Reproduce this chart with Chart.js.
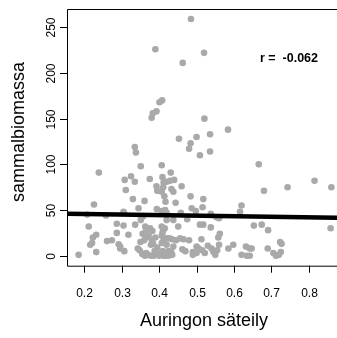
<!DOCTYPE html>
<html>
<head>
<meta charset="utf-8">
<script src="https://cdn.jsdelivr.net/npm/chart.js@4/dist/chart.umd.min.js"></script>
<style>
  body { margin: 0; background: #fff; }
  canvas { display: block; }
</style>
</head>
<body>
<canvas id="grafica" width="337" height="338"></canvas>
<script>
// Datos
const sateily = [
  0.485, 0.390, 0.520, 0.463, 0.408, 0.401, 0.393, 0.383, 0.380, 0.521,
  0.584, 0.536, 0.500, 0.453, 0.484, 0.480, 0.509, 0.536, 0.335, 0.338,
  0.666, 0.407, 0.351, 0.239, 0.431, 0.325, 0.308, 0.335, 0.375, 0.409,
  0.412, 0.420, 0.429, 0.440, 0.815, 0.860, 0.743, 0.680, 0.460, 0.311,
  0.393, 0.411, 0.395, 0.407, 0.433, 0.438, 0.484, 0.330, 0.361, 0.414,
  0.417, 0.444, 0.518, 0.226, 0.620,
  0.345, 0.394, 0.416, 0.305, 0.208, 0.258, 0.357, 0.487, 0.516, 0.407,
  0.420, 0.458, 0.498, 0.538, 0.616, 0.560, 0.438, 0.420, 0.351, 0.475,
  0.352, 0.553, 0.306,
  0.287, 0.305, 0.336, 0.363, 0.212, 0.376, 0.382, 0.415, 0.407, 0.451,
  0.509, 0.518, 0.538, 0.653, 0.674, 0.691, 0.858, 0.411, 0.409, 0.562,
  0.287, 0.318, 0.232, 0.223, 0.356, 0.366, 0.360, 0.261, 0.274, 0.221,
  0.216, 0.292, 0.296, 0.350, 0.381, 0.384, 0.378, 0.407, 0.412, 0.343,
  0.348, 0.296, 0.232, 0.185, 0.307, 0.513, 0.558,
  0.420, 0.428, 0.435, 0.445, 0.456, 0.465, 0.480, 0.407, 0.420, 0.438,
  0.410, 0.425, 0.432, 0.462, 0.470, 0.490, 0.412, 0.418, 0.425, 0.435,
  0.500, 0.490, 0.500, 0.506, 0.515, 0.522, 0.530, 0.540, 0.545, 0.550,
  0.560, 0.555, 0.585, 0.598, 0.632, 0.642, 0.620, 0.634, 0.723, 0.727,
  0.647, 0.690, 0.705, 0.712, 0.720, 0.725, 0.642,
  0.355, 0.362, 0.370, 0.378, 0.386, 0.394, 0.400, 0.404, 0.365, 0.365,
  0.372, 0.390, 0.395, 0.388
];
const biomassa = [
  259, 226, 222, 211, 170, 168, 158, 156, 151, 150,
  138, 133, 130, 128, 123, 117, 110, 114, 119, 113,
  100, 99, 98, 91, 91, 87, 83, 81, 84, 86,
  80, 81, 82, 83, 82, 75, 75, 71, 76, 72,
  76, 75, 71, 70, 73, 70, 65, 62, 60, 65,
  59, 58, 62, 56, 55,
  52, 51, 50, 48, 45, 44, 43, 52, 53, 49,
  47, 47, 49, 46, 48, 41, 39, 39, 39, 40,
  42, 42, 47,
  35, 33, 34, 32, 32, 30, 27, 30, 32, 32,
  34, 34, 31, 33, 34, 28, 30, 28, 25, 24,
  25, 23, 23, 20, 24, 20, 17, 16, 17, 14,
  12, 12.5, 10, 15, 17, 13, 12, 22, 17, 8,
  6, 8, 4, 1, 5, 18, 20,
  19, 19, 18, 17, 19, 18, 17, 14, 12, 10,
  5, 5, 4, 7, 5, 4, 0, 0, 0, 1,
  3, 1, 10, 8, 6, 3, 11, 8, 4, 1,
  12, 6, 8, 12, 10, 8, 1, 0, 15, 13,
  8, 8, 3, 0, 1, 4, 0,
  2, 0, 1, 0, 0, 2, 0, 3, 3, 28,
  22, 20, 9, 5
];
const xTicks = [0.2, 0.3, 0.4, 0.5, 0.6, 0.7, 0.8];
const yTicks = [0, 50, 100, 150, 200, 250];
// Recta de regresion (extremos leidos)
const rectaX = [0.154, 0.875];
const rectaY = [46, 41.6];
const textoR = 'r =  -0.062';
const tituloX = 'Auringon säteily';
const tituloY = 'sammalbiomassa';

const puntos = sateily.map((x, i) => ({ x: x, y: biomassa[i] }));
const recta = rectaX.map((x, i) => ({ x: x, y: rectaY[i] }));

const fuente = '"Liberation Sans", Arial, Helvetica, sans-serif';

// Ejes, marco y textos estilo R
const ejesR = {
  id: 'ejesR',
  afterDraw(chart) {
    const ctx = chart.ctx;
    const area = chart.chartArea;
    const sx = chart.scales.x;
    const sy = chart.scales.y;
    ctx.save();
    ctx.strokeStyle = '#000';
    ctx.fillStyle = '#000';
    ctx.lineWidth = 1;
    // marco
    ctx.beginPath();
    ctx.moveTo(area.right + 5, area.top + 0.5);
    ctx.lineTo(area.left + 0.5, area.top + 0.5);
    ctx.lineTo(area.left + 0.5, area.bottom + 0.5);
    ctx.lineTo(area.right + 5, area.bottom + 0.5);
    ctx.stroke();
    // ticks x
    ctx.font = '12px ' + fuente;
    ctx.textAlign = 'center';
    ctx.textBaseline = 'alphabetic';
    xTicks.forEach(t => {
      const px = Math.round(sx.getPixelForValue(t)) + 0.5;
      ctx.beginPath();
      ctx.moveTo(px, area.bottom);
      ctx.lineTo(px, area.bottom + 7);
      ctx.stroke();
      ctx.fillText(String(t), px, 297);
    });
    // ticks y (etiquetas giradas)
    yTicks.forEach(t => {
      const py = Math.round(sy.getPixelForValue(t)) + 0.5;
      ctx.beginPath();
      ctx.moveTo(area.left, py);
      ctx.lineTo(area.left - 7, py);
      ctx.stroke();
      ctx.save();
      ctx.translate(55, py);
      ctx.rotate(-Math.PI / 2);
      ctx.fillText(String(t), 0, 0);
      ctx.restore();
    });
    // titulos
    ctx.font = '18px ' + fuente;
    ctx.fillText(tituloX, 204, 326);
    ctx.save();
    ctx.translate(23.5, 132);
    ctx.rotate(-Math.PI / 2);
    ctx.fillText(tituloY, 0, 0);
    ctx.restore();
    // coeficiente
    ctx.font = 'bold 12.5px ' + fuente;
    ctx.textAlign = 'left';
    ctx.fillText(textoR, 260, 61.5);
    ctx.restore();
  }
};

const ctx = document.getElementById('grafica').getContext('2d');
new Chart(ctx, {
  type: 'scatter',
  data: {
    datasets: [
      {
        type: 'line',
        data: recta,
        borderColor: '#000',
        borderWidth: 4.5,
        pointRadius: 0,
        fill: false
      },
      {
        data: puntos,
        backgroundColor: '#a9a9a9',
        borderWidth: 0,
        pointRadius: 3.3
      }
    ]
  },
  options: {
    responsive: false,
    animation: false,
    devicePixelRatio: 1,
    layout: { autoPadding: false, padding: { left: 67, top: 9, right: 0, bottom: 72.3 } },
    plugins: {
      legend: { display: false },
      tooltip: { enabled: false }
    },
    scales: {
      x: { type: 'linear', display: false, min: 0.154, max: 0.875 },
      y: { type: 'linear', display: false, min: -10.9, max: 270 }
    }
  },
  plugins: [ejesR]
});
</script>
</body>
</html>
